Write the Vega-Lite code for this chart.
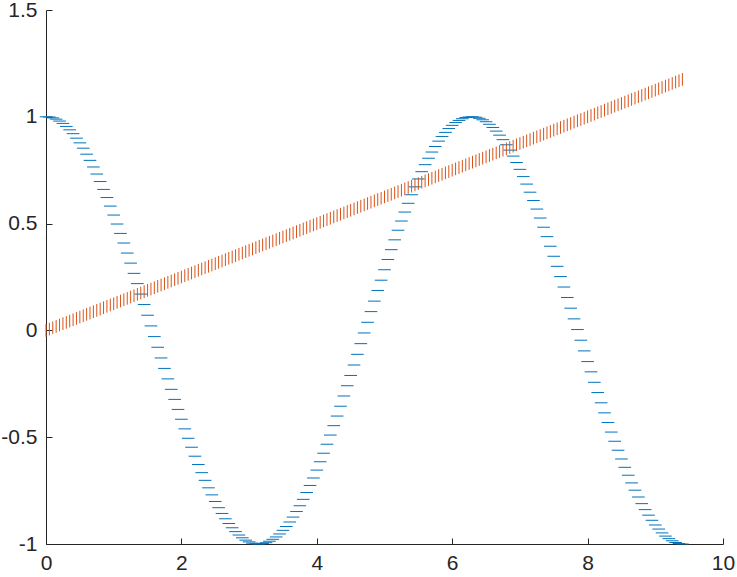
{
  "$schema": "https://vega.github.io/schema/vega-lite/v6.json",
  "autosize": "none",
  "padding": {"left": 46, "top": 10, "right": 14, "bottom": 33},
  "width": 677,
  "height": 534,
  "background": "white",
  "config": {
    "view": {"stroke": null},
    "axis": {
      "grid": false,
      "domainColor": "#262626",
      "tickColor": "#262626",
      "labelColor": "#262626",
      "labelFont": "Liberation Sans",
      "labelFontSize": 21,
      "tickSize": -6,
      "domainWidth": 1,
      "tickWidth": 1,
      "labelFlush": false,
      "labelOverlap": false,
      "labelExpr": "'' + datum.value"
    }
  },
  "data": {"values": [
    {"x":0.00,"c":1.000,"l":0.00000},{"x":0.05,"c":0.999,"l":0.00625},{"x":0.10,"c":0.995,"l":0.0125},{"x":0.15,"c":0.989,"l":0.01875},{"x":0.20,"c":0.980,"l":0.025},
    {"x":0.25,"c":0.969,"l":0.03125},{"x":0.30,"c":0.955,"l":0.0375},{"x":0.35,"c":0.939,"l":0.04375},{"x":0.40,"c":0.921,"l":0.05},{"x":0.45,"c":0.900,"l":0.05625},
    {"x":0.50,"c":0.878,"l":0.0625},{"x":0.55,"c":0.853,"l":0.06875},{"x":0.60,"c":0.825,"l":0.075},{"x":0.65,"c":0.796,"l":0.08125},{"x":0.70,"c":0.765,"l":0.0875},
    {"x":0.75,"c":0.732,"l":0.09375},{"x":0.80,"c":0.697,"l":0.1},{"x":0.85,"c":0.660,"l":0.10625},{"x":0.90,"c":0.622,"l":0.1125},{"x":0.95,"c":0.582,"l":0.11875},
    {"x":1.00,"c":0.540,"l":0.125},{"x":1.05,"c":0.498,"l":0.13125},{"x":1.10,"c":0.454,"l":0.1375},{"x":1.15,"c":0.409,"l":0.14375},{"x":1.20,"c":0.362,"l":0.15},
    {"x":1.25,"c":0.315,"l":0.15625},{"x":1.30,"c":0.267,"l":0.1625},{"x":1.35,"c":0.219,"l":0.16875},{"x":1.40,"c":0.170,"l":0.175},{"x":1.45,"c":0.121,"l":0.18125},
    {"x":1.50,"c":0.071,"l":0.1875},{"x":1.55,"c":0.021,"l":0.19375},{"x":1.60,"c":-0.029,"l":0.2},{"x":1.65,"c":-0.079,"l":0.20625},{"x":1.70,"c":-0.129,"l":0.2125},
    {"x":1.75,"c":-0.178,"l":0.21875},{"x":1.80,"c":-0.227,"l":0.225},{"x":1.85,"c":-0.276,"l":0.23125},{"x":1.90,"c":-0.323,"l":0.2375},{"x":1.95,"c":-0.370,"l":0.24375},
    {"x":2.00,"c":-0.416,"l":0.25},{"x":2.05,"c":-0.461,"l":0.25625},{"x":2.10,"c":-0.505,"l":0.2625},{"x":2.15,"c":-0.547,"l":0.26875},{"x":2.20,"c":-0.589,"l":0.275},
    {"x":2.25,"c":-0.628,"l":0.28125},{"x":2.30,"c":-0.666,"l":0.2875},{"x":2.35,"c":-0.702,"l":0.29375},{"x":2.40,"c":-0.737,"l":0.3},{"x":2.45,"c":-0.770,"l":0.30625},
    {"x":2.50,"c":-0.801,"l":0.3125},{"x":2.55,"c":-0.830,"l":0.31875},{"x":2.60,"c":-0.857,"l":0.325},{"x":2.65,"c":-0.882,"l":0.33125},{"x":2.70,"c":-0.904,"l":0.3375},
    {"x":2.75,"c":-0.924,"l":0.34375},{"x":2.80,"c":-0.942,"l":0.35},{"x":2.85,"c":-0.958,"l":0.35625},{"x":2.90,"c":-0.971,"l":0.3625},{"x":2.95,"c":-0.982,"l":0.36875},
    {"x":3.00,"c":-0.990,"l":0.375},{"x":3.05,"c":-0.996,"l":0.38125},{"x":3.10,"c":-0.999,"l":0.3875},{"x":3.15,"c":-1.000,"l":0.39375},{"x":3.20,"c":-0.998,"l":0.4},
    {"x":3.25,"c":-0.994,"l":0.40625},{"x":3.30,"c":-0.987,"l":0.4125},{"x":3.35,"c":-0.978,"l":0.41875},{"x":3.40,"c":-0.967,"l":0.425},{"x":3.45,"c":-0.953,"l":0.43125},
    {"x":3.50,"c":-0.936,"l":0.4375},{"x":3.55,"c":-0.918,"l":0.44375},{"x":3.60,"c":-0.897,"l":0.45},{"x":3.65,"c":-0.874,"l":0.45625},{"x":3.70,"c":-0.848,"l":0.4625},
    {"x":3.75,"c":-0.821,"l":0.46875},{"x":3.80,"c":-0.791,"l":0.475},{"x":3.85,"c":-0.759,"l":0.48125},{"x":3.90,"c":-0.726,"l":0.4875},{"x":3.95,"c":-0.691,"l":0.49375},
    {"x":4.00,"c":-0.654,"l":0.5},{"x":4.05,"c":-0.615,"l":0.50625},{"x":4.10,"c":-0.575,"l":0.5125},{"x":4.15,"c":-0.533,"l":0.51875},{"x":4.20,"c":-0.490,"l":0.525},
    {"x":4.25,"c":-0.446,"l":0.53125},{"x":4.30,"c":-0.401,"l":0.5375},{"x":4.35,"c":-0.355,"l":0.54375},{"x":4.40,"c":-0.307,"l":0.55},{"x":4.45,"c":-0.259,"l":0.55625},
    {"x":4.50,"c":-0.211,"l":0.5625},{"x":4.55,"c":-0.162,"l":0.56875},{"x":4.60,"c":-0.112,"l":0.575},{"x":4.65,"c":-0.062,"l":0.58125},{"x":4.70,"c":-0.012,"l":0.5875},
    {"x":4.75,"c":0.038,"l":0.59375},{"x":4.80,"c":0.088,"l":0.6},{"x":4.85,"c":0.137,"l":0.60625},{"x":4.90,"c":0.187,"l":0.6125},{"x":4.95,"c":0.235,"l":0.61875},
    {"x":5.00,"c":0.284,"l":0.625},{"x":5.05,"c":0.332,"l":0.63125},{"x":5.10,"c":0.378,"l":0.6375},{"x":5.15,"c":0.424,"l":0.64375},{"x":5.20,"c":0.469,"l":0.65},
    {"x":5.25,"c":0.512,"l":0.65625},{"x":5.30,"c":0.554,"l":0.6625},{"x":5.35,"c":0.595,"l":0.66875},{"x":5.40,"c":0.635,"l":0.675},{"x":5.45,"c":0.672,"l":0.68125},
    {"x":5.50,"c":0.709,"l":0.6875},{"x":5.55,"c":0.743,"l":0.69375},{"x":5.60,"c":0.776,"l":0.7},{"x":5.65,"c":0.806,"l":0.70625},{"x":5.70,"c":0.835,"l":0.7125},
    {"x":5.75,"c":0.861,"l":0.71875},{"x":5.80,"c":0.886,"l":0.725},{"x":5.85,"c":0.908,"l":0.73125},{"x":5.90,"c":0.927,"l":0.7375},{"x":5.95,"c":0.945,"l":0.74375},
    {"x":6.00,"c":0.960,"l":0.75},{"x":6.05,"c":0.973,"l":0.75625},{"x":6.10,"c":0.983,"l":0.7625},{"x":6.15,"c":0.991,"l":0.76875},{"x":6.20,"c":0.997,"l":0.775},
    {"x":6.25,"c":0.999,"l":0.78125},{"x":6.30,"c":1.000,"l":0.7875},{"x":6.35,"c":0.998,"l":0.79375},{"x":6.40,"c":0.993,"l":0.8},{"x":6.45,"c":0.986,"l":0.80625},
    {"x":6.50,"c":0.977,"l":0.8125},{"x":6.55,"c":0.965,"l":0.81875},{"x":6.60,"c":0.950,"l":0.825},{"x":6.65,"c":0.933,"l":0.83125},{"x":6.70,"c":0.914,"l":0.8375},
    {"x":6.75,"c":0.893,"l":0.84375},{"x":6.80,"c":0.869,"l":0.85},{"x":6.85,"c":0.844,"l":0.85625},{"x":6.90,"c":0.816,"l":0.8625},{"x":6.95,"c":0.786,"l":0.86875},
    {"x":7.00,"c":0.754,"l":0.875},{"x":7.05,"c":0.720,"l":0.88125},{"x":7.10,"c":0.685,"l":0.8875},{"x":7.15,"c":0.647,"l":0.89375},{"x":7.20,"c":0.608,"l":0.9},
    {"x":7.25,"c":0.568,"l":0.90625},{"x":7.30,"c":0.526,"l":0.9125},{"x":7.35,"c":0.483,"l":0.91875},{"x":7.40,"c":0.439,"l":0.925},{"x":7.45,"c":0.394,"l":0.93125},
    {"x":7.50,"c":0.347,"l":0.9375},{"x":7.55,"c":0.300,"l":0.94375},{"x":7.60,"c":0.252,"l":0.95},{"x":7.65,"c":0.203,"l":0.95625},{"x":7.70,"c":0.154,"l":0.9625},
    {"x":7.75,"c":0.104,"l":0.96875},{"x":7.80,"c":0.054,"l":0.975},{"x":7.85,"c":0.004,"l":0.98125},{"x":7.90,"c":-0.046,"l":0.9875},{"x":7.95,"c":-0.096,"l":0.99375},
    {"x":8.00,"c":-0.146,"l":1.0},{"x":8.05,"c":-0.194,"l":1.00625},{"x":8.10,"c":-0.243,"l":1.0125},{"x":8.15,"c":-0.291,"l":1.01875},{"x":8.20,"c":-0.339,"l":1.025},
    {"x":8.25,"c":-0.386,"l":1.03125},{"x":8.30,"c":-0.431,"l":1.0375},{"x":8.35,"c":-0.476,"l":1.04375},{"x":8.40,"c":-0.519,"l":1.05},{"x":8.45,"c":-0.561,"l":1.05625},
    {"x":8.50,"c":-0.602,"l":1.0625},{"x":8.55,"c":-0.641,"l":1.06875},{"x":8.60,"c":-0.678,"l":1.075},{"x":8.65,"c":-0.714,"l":1.08125},{"x":8.70,"c":-0.748,"l":1.0875},
    {"x":8.75,"c":-0.780,"l":1.09375},{"x":8.80,"c":-0.811,"l":1.1},{"x":8.85,"c":-0.839,"l":1.10625},{"x":8.90,"c":-0.865,"l":1.1125},{"x":8.95,"c":-0.889,"l":1.11875},
    {"x":9.00,"c":-0.911,"l":1.125},{"x":9.05,"c":-0.930,"l":1.13125},{"x":9.10,"c":-0.948,"l":1.1375},{"x":9.15,"c":-0.963,"l":1.14375},{"x":9.20,"c":-0.975,"l":1.15},
    {"x":9.25,"c":-0.985,"l":1.15625},{"x":9.30,"c":-0.993,"l":1.1625},{"x":9.35,"c":-0.998,"l":1.16875},{"x":9.40,"c":-1.000,"l":1.175}
  ]},
  "encoding": {
    "x": {"field": "x", "type": "quantitative", "title": null,
      "scale": {"domain": [0, 10], "nice": false, "zero": false},
      "axis": {"values": [0, 2, 4, 6, 8, 10], "labelPadding": 14}}
  },
  "layer": [
    {
      "mark": {"type": "point", "shape": "M-1,0L1,0", "filled": false, "size": 160, "strokeWidth": 1, "color": "#0072BD", "opacity": 1, "clip": false},
      "encoding": {
        "y": {"field": "c", "type": "quantitative", "title": null,
          "scale": {"domain": [-1, 1.5], "nice": false, "zero": false},
          "axis": {"values": [-1, -0.5, 0, 0.5, 1, 1.5], "labelPadding": 15}}
      }
    },
    {
      "mark": {"type": "point", "shape": "M0,-1L0,1", "filled": false, "size": 160, "strokeWidth": 1, "color": "#D95319", "opacity": 1, "clip": false},
      "encoding": {
        "y": {"field": "l", "type": "quantitative"}
      }
    }
  ]
}
